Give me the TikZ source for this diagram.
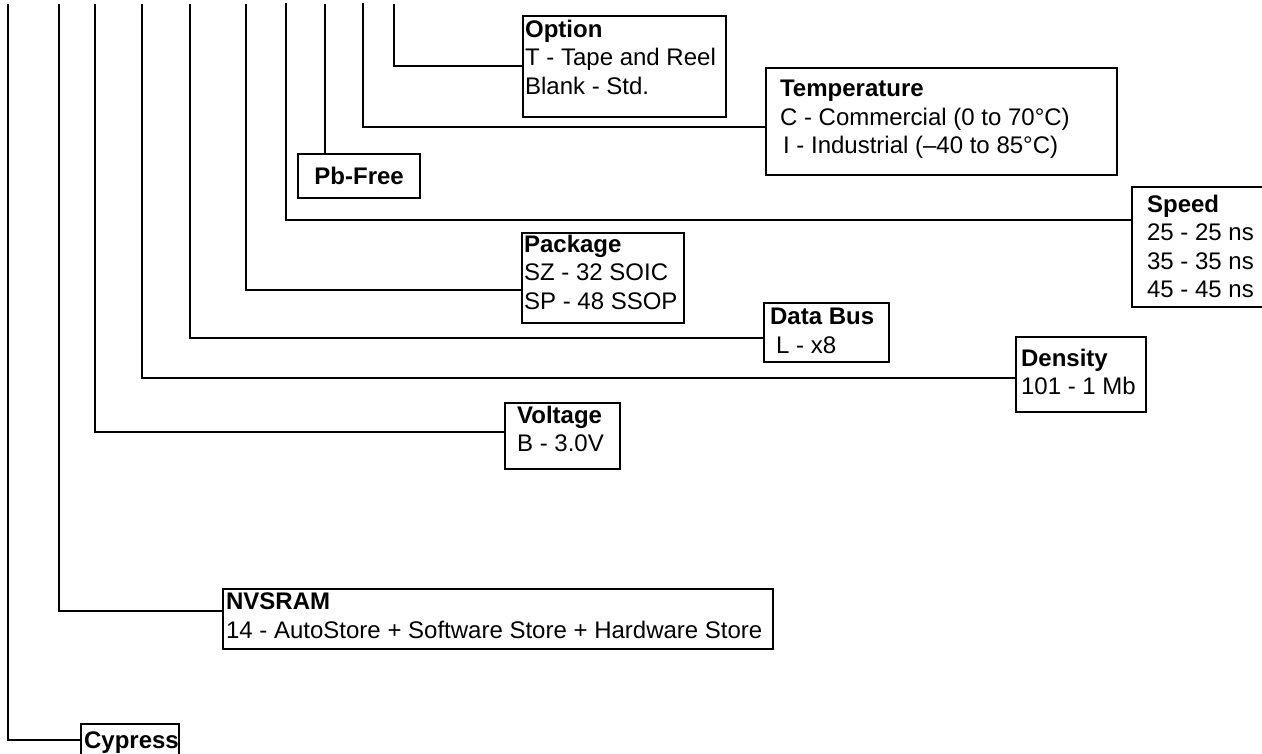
\documentclass[tikz,border=0pt]{standalone}
\usepackage{fontspec}
\setmainfont{Liberation Sans}
\begin{document}
\begin{tikzpicture}[x=1pt,y=-1pt,
  line width=2.2pt,
  box/.style={draw, line width=2.2pt, inner sep=0pt, anchor=north west},
  txt/.style={anchor=north west, inner sep=0pt, align=left, font=\fontsize{24}{28.5}\selectfont},
  wire/.style={draw, line width=2.2pt}]
\useasboundingbox (0,0) rectangle (1262,754);
% boxes
\node[box, minimum width=203pt, minimum height=101pt] (opt) at (522,15) {};
\node[box, minimum width=351pt, minimum height=107pt] (tmp) at (765,67) {};
\node[box, minimum width=122pt, minimum height=44pt, font=\fontsize{24}{28}\selectfont\bfseries] (pbf) at (297,153) {Pb-Free};
\node[box, minimum width=131pt, minimum height=120pt] (spd) at (1131,186) {};
\node[box, minimum width=162pt, minimum height=90pt] (pkg) at (521,232) {};
\node[box, minimum width=125pt, minimum height=59pt] (dbs) at (763,302) {};
\node[box, minimum width=130pt, minimum height=75pt] (den) at (1015,336) {};
\node[box, minimum width=115pt, minimum height=66pt] (vol) at (504,402) {};
\node[box, minimum width=550pt, minimum height=60pt] (nvs) at (222,588) {};
\node[box, minimum width=98pt, minimum height=40pt] (cyp) at (80,723) {};
% texts
\node[txt] (topt) at (524,19) {\textbf{Option}\\T - Tape and Reel\\Blank - Std.};
\node[txt] (ttmp) at (779,79) {\textbf{Temperature}\\C - Commercial (0 to 70°C)\\\hspace{3pt}I - Industrial (–40 to 85°C)};
\node[txt] (tspd) at (1146,194) {\textbf{Speed}\\25 - 25 ns\\35 - 35 ns\\45 - 45 ns};
\node[txt] (tpkg) at (523,234) {\textbf{Package}\\SZ - 32 SOIC\\SP - 48 SSOP};
\node[txt] (tdbs) at (769,307) {\textbf{Data Bus}\\\hspace{6pt}L - x8};
\node[txt] (tden) at (1020,348) {\textbf{Density}\\101 - 1 Mb};
\node[txt] (tvol) at (516,405) {\textbf{Voltage}\\B - 3.0V};
\node[txt] (tnvs) at (225,592) {\textbf{NVSRAM}\\14 - AutoStore + Software Store + Hardware Store};
\node[txt] (tcyp) at (83,731) {\textbf{Cypress}};
% top ends of the wires
\coordinate (c1) at (8,4);
\coordinate (c2) at (59,4);
\coordinate (c3) at (95,4);
\coordinate (c4) at (142,4);
\coordinate (c5) at (190,4);
\coordinate (c6) at (246,4);
\coordinate (c7) at (286,3);
\coordinate (c8) at (325,4);
\coordinate (c9) at (363,3);
\coordinate (c10) at (394,4);
% wires
\draw[wire] (c10) |- (opt.west |- 0,66);
\draw[wire] (c9) |- (tmp.west |- 0,127);
\draw[wire] (c8) -- (pbf.north -| c8);
\draw[wire] (c7) |- (spd.west |- 0,220);
\draw[wire] (c6) |- (pkg.west |- 0,290);
\draw[wire] (c5) |- (dbs.west |- 0,338);
\draw[wire] (c4) |- (den.west |- 0,378);
\draw[wire] (c3) |- (vol.west |- 0,432);
\draw[wire] (c2) |- (nvs.west |- 0,611);
\draw[wire] (c1) |- (cyp.west |- 0,740);
\end{tikzpicture}
\end{document}
